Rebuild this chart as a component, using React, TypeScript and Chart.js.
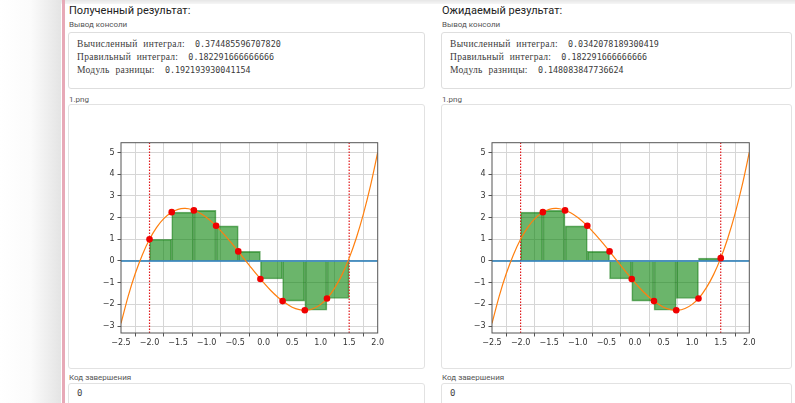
import React, { useEffect, useRef } from "react";
import { Chart, registerables } from "chart.js";
Chart.register(...registerables);

// ---- data ----
const X_NODES = [-2.0, -1.611, -1.222, -0.833, -0.444, -0.056, 0.333, 0.722, 1.111, 1.5];
const F_NODES = [1.0, 2.25, 2.33, 1.62, 0.44, -0.83, -1.85, -2.27, -1.73, 0.13];
const LEFT_HEIGHTS = [1.0, 2.25, 2.33, 1.62, 0.44, -0.83, -1.85, -2.27, -1.73];
const RIGHT_HEIGHTS = [2.25, 2.33, 1.62, 0.44, -0.83, -1.85, -2.27, -1.73, 0.13];
const CURVE_X = [
  -2.5, -2.375, -2.25, -2.125, -2.0, -1.875, -1.75, -1.625, -1.5, -1.375, -1.25, -1.125,
  -1.0, -0.875, -0.75, -0.625, -0.5, -0.375, -0.25, -0.125, 0.0, 0.125, 0.25, 0.375, 0.5,
  0.625, 0.75, 0.875, 1.0, 1.125, 1.25, 1.375, 1.5, 1.625, 1.75, 1.875, 2.0,
];
const CURVE_Y = [
  -2.88, -1.63, -0.58, 0.29, 1.0, 1.55, 1.95, 2.22, 2.38, 2.42, 2.36, 2.22,
  2.0, 1.72, 1.39, 1.02, 0.63, 0.21, -0.2, -0.61, -1.0, -1.36, -1.67, -1.93, -2.13,
  -2.24, -2.27, -2.19, -2.0, -1.69, -1.23, -0.63, 0.13, 1.06, 2.17, 3.48, 5.0,
];
const X_TICKS = [-2.5, -2.0, -1.5, -1.0, -0.5, 0.0, 0.5, 1.0, 1.5, 2.0];
const Y_TICKS = [-3, -2, -1, 0, 1, 2, 3, 4, 5];
const X_RANGE = [-2.5, 2.0];
const Y_RANGE = [-3.32, 5.45];
const BOUNDS = [-2.0, 1.5];

const fmt = (v: number, d: number) => v.toFixed(d).replace("-", "\u2212");

const framePlugin = {
  id: "frame",
  afterDatasetsDraw(chart: any) {
    const { ctx, chartArea: a } = chart;
    ctx.save();
    ctx.strokeStyle = "#555";
    ctx.lineWidth = 1;
    ctx.strokeRect(a.left, a.top, a.right - a.left, a.bottom - a.top);
    ctx.restore();
  },
};

function Plot({ heights, start, padRight }: { heights: number[]; start: number; padRight: number }) {
  const ref = useRef<HTMLCanvasElement | null>(null);
  useEffect(() => {
    if (!ref.current) return;
    const bars = heights.map((h, i) => ({ x: (X_NODES[i] + X_NODES[i + 1]) / 2, y: h }));
    const pts = X_NODES.slice(start, start + 9).map((x, i) => ({ x, y: F_NODES[start + i] }));
    const curve = CURVE_X.map((x, i) => ({ x, y: CURVE_Y[i] }));
    const vline = (x: number) => ({
      type: "line" as const,
      data: [{ x, y: Y_RANGE[0] }, { x, y: Y_RANGE[1] }],
      borderColor: "#e0191b",
      borderWidth: 1.2,
      borderDash: [1.5, 1.5],
      pointRadius: 0,
      order: 3,
    });
    const chart = new Chart(ref.current, {
      type: "line",
      data: {
        datasets: [
          {
            type: "bar",
            data: bars,
            backgroundColor: "rgba(0,128,0,0.58)",
            borderColor: "rgba(0,110,0,0.55)",
            borderWidth: 1,
            barPercentage: 1,
            categoryPercentage: 1,
            order: 5,
          } as any,
          vline(BOUNDS[0]),
          vline(BOUNDS[1]),
          {
            type: "line",
            data: [{ x: X_RANGE[0], y: 0 }, { x: X_RANGE[1], y: 0 }],
            borderColor: "#1f77b4",
            borderWidth: 1.5,
            pointRadius: 0,
            order: 2,
          },
          {
            type: "line",
            data: curve,
            borderColor: "#ff7f0e",
            borderWidth: 1.2,
            pointRadius: 0,
            tension: 0.3,
            order: 1,
          },
          {
            type: "line",
            data: pts,
            showLine: false,
            pointRadius: 3.3,
            pointBackgroundColor: "#f00000",
            pointBorderColor: "#f00000",
            borderWidth: 0,
            order: 0,
          },
        ],
      },
      options: {
        animation: false,
        responsive: false,
        devicePixelRatio: 1,
        layout: { padding: { top: 12.7, right: padRight, left: 0, bottom: 0 } },
        plugins: { legend: { display: false }, tooltip: { enabled: false } },
        scales: {
          x: {
            type: "linear",
            min: X_RANGE[0],
            max: X_RANGE[1],
            offset: false,
            afterBuildTicks: (s: any) => { s.ticks = X_TICKS.map((v) => ({ value: v })); },
            afterFit: (s: any) => { s.height = 27; },
            grid: { color: "#d6d6d6", tickColor: "#555", tickLength: 3.5, lineWidth: 1 },
            border: { display: false },
            ticks: {
              color: "#333",
              font: { family: "DejaVu Sans", size: 8 },
              padding: 2,
              maxRotation: 0,
              autoSkip: false,
              callback: (v: any) => fmt(Number(v), 1),
            },
          },
          y: {
            type: "linear",
            min: Y_RANGE[0],
            max: Y_RANGE[1],
            afterBuildTicks: (s: any) => { s.ticks = Y_TICKS.map((v) => ({ value: v })); },
            afterFit: (s: any) => { s.width = 43; },
            grid: { color: "#d6d6d6", tickColor: "#555", tickLength: 3.5, lineWidth: 1 },
            border: { display: false },
            ticks: {
              color: "#333",
              font: { family: "DejaVu Sans", size: 8 },
              padding: 3,
              autoSkip: false,
              callback: (v: any) => fmt(Number(v), 0),
            },
          },
        },
      },
      plugins: [framePlugin],
    });
    return () => chart.destroy();
  }, []);
  return <canvas ref={ref} width={310} height={230} style={{ width: 310, height: 230, display: "block" }} />;
}

const sans = "Roboto, 'Open Sans', 'DejaVu Sans', sans-serif";
const serif = "'Liberation Serif', 'DejaVu Serif', serif";
const mono = "'DejaVu Sans Mono', 'Liberation Mono', monospace";

function Console({ left, width, lines }: { left: number; width: number; lines: [string, string][] }) {
  return (
    <div style={{ position: "absolute", left, top: 32, width, height: 57, border: "1px solid #dedede", borderRadius: 3, boxSizing: "border-box", background: "#fff" }}>
      {lines.map(([a, b], i) => (
        <div key={i} style={{ position: "absolute", left: 8, top: 3 + i * 12.8, whiteSpace: "pre", color: "#3a3a3a", lineHeight: "12px" }}>
          <span style={{ fontFamily: serif, fontSize: 9.5, letterSpacing: 0.3, wordSpacing: 3 }}>{a}</span>
          <span style={{ fontFamily: mono, fontSize: 8.4 }}>{"  " + b}</span>
        </div>
      ))}
    </div>
  );
}

function Panel({ left, width, title, lines, heights, start, chartLeft, padRight }: any) {
  const label = { position: "absolute" as const, fontFamily: sans, fontSize: 8, color: "#555", left: left + 1 };
  return (
    <>
      <div style={{ position: "absolute", left: left + 1, top: 4, fontFamily: sans, fontSize: 11, fontWeight: 400, color: "#222" }}>{title}</div>
      <div style={{ ...label, top: 20 }}>Вывод консоли</div>
      <Console left={left} width={width} lines={lines} />
      <div style={{ ...label, top: 95 }}>1.png</div>
      <div style={{ position: "absolute", left, top: 104, width, height: 265, border: "1px solid #e2e2e2", borderRadius: 3, boxSizing: "border-box", background: "#fff" }} />
      <div style={{ position: "absolute", left: chartLeft, top: 130 }}>
        <Plot heights={heights} start={start} padRight={padRight} />
      </div>
      <div style={{ ...label, top: 373 }}>Код завершения</div>
      <div style={{ position: "absolute", left, top: 383, width, height: 30, border: "1px solid #e2e2e2", borderRadius: 3, boxSizing: "border-box", background: "#fff" }}>
        <div style={{ position: "absolute", left: 8, top: 4, fontFamily: mono, fontSize: 9, color: "#444" }}>0</div>
      </div>
    </>
  );
}

export default function App() {
  return (
    <div style={{ position: "fixed", left: 0, top: 0, width: 795, height: 403, overflow: "hidden", background: "#fff" }}>
      <div style={{ position: "absolute", left: 0, top: 0, width: 61, height: 403, background: "linear-gradient(to right, #ffffff 0%, #fbfbfb 50%, #e4e4e4 100%)" }} />
      <div style={{ position: "absolute", left: 61, top: 0, width: 734, height: 4, background: "linear-gradient(to bottom, #e6e6e6, #f6f6f6)" }} />
      <div style={{ position: "absolute", left: 62, top: 0, width: 3, height: 403, background: "#e7a9b7" }} />
      <Panel
        left={68}
        width={357}
        title="Полученный результат:"
        lines={[["Вычисленный интеграл:", "0.374485596707820"], ["Правильный интеграл:", "0.182291666666666"], ["Модуль разницы:", "0.192193930041154"]]}
        heights={LEFT_HEIGHTS}
        start={0}
        chartLeft={78}
        padRight={10.3}
      />
      <Panel
        left={441}
        width={351}
        title="Ожидаемый результат:"
        lines={[["Вычисленный интеграл:", "0.0342078189300419"], ["Правильный интеграл:", "0.182291666666666"], ["Модуль разницы:", "0.148083847736624"]]}
        heights={RIGHT_HEIGHTS}
        start={1}
        chartLeft={448.7}
        padRight={9.7}
      />
    </div>
  );
}
